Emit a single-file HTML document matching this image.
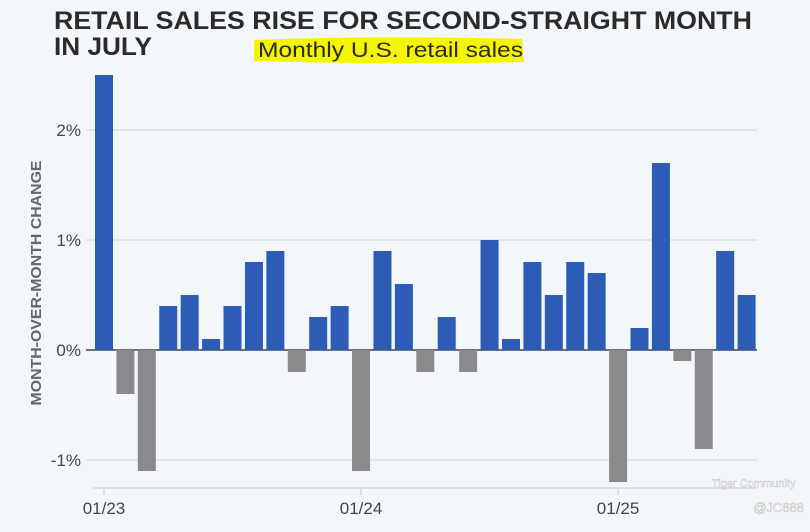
<!DOCTYPE html>
<html><head><meta charset="utf-8"><style>
body{margin:0;background:#f4f7fa;width:810px;height:527px;overflow:hidden;font-family:"Liberation Sans",sans-serif}
</style></head><body>
<svg width="810" height="527" xmlns="http://www.w3.org/2000/svg">
<rect width="810" height="527" fill="#f4f7fa"/>
<text x="54" y="29" font-size="25" font-weight="bold" fill="#2b2b2b" textLength="698" lengthAdjust="spacingAndGlyphs">RETAIL SALES RISE FOR SECOND-STRAIGHT MONTH</text>
<text x="54" y="55" font-size="25" font-weight="bold" fill="#2b2b2b" textLength="98" lengthAdjust="spacingAndGlyphs">IN JULY</text>
<path d="M254 40 Q390 35 522 39 L524 62 Q390 65 254 61 Z" fill="#f5f500"/>
<text x="258" y="57" font-size="21" fill="#2b2b2b" textLength="265" lengthAdjust="spacingAndGlyphs">Monthly U.S. retail sales</text>
<text transform="translate(41,283) rotate(-90)" text-anchor="middle" font-size="15" font-weight="bold" fill="#666" textLength="245" lengthAdjust="spacingAndGlyphs">MONTH-OVER-MONTH CHANGE</text>
<g id="grid"></g><g id="bars"></g><g id="xaxis"></g>
<text x="804" y="512" text-anchor="end" font-size="13" fill="#fff" stroke="#bbb" stroke-width="0.5">@JC888</text>
<text x="712" y="487" font-size="11" fill="#fff" stroke="#bbb" stroke-width="0.4">Tiger Community</text>
</svg>
<script>
const months = ["01/23","02/23","03/23","04/23","05/23","06/23","07/23","08/23","09/23","10/23","11/23","12/23","01/24","02/24","03/24","04/24","05/24","06/24","07/24","08/24","09/24","10/24","11/24","12/24","01/25","02/25","03/25","04/25","05/25","06/25","07/25"];
const values = [2.5,-0.4,-1.1,0.4,0.5,0.1,0.4,0.8,0.9,-0.2,0.3,0.4,-1.1,0.9,0.6,-0.2,0.3,-0.2,1.0,0.1,0.8,0.5,0.8,0.7,-1.2,0.2,1.7,-0.1,-0.9,0.9,0.5];
const yTicks = [-1,0,1,2];
const yTickLabels = ["-1%","0%","1%","2%"];
const xTickLabels = ["01/23","01/24","01/25"];
const NS="http://www.w3.org/2000/svg";
const y = v => 350 - v*110;
const step = (746.6-104)/30;
const x = i => 104 + i*step;
function mk(tag, attrs, parent){const e=document.createElementNS(NS,tag);for(const k in attrs)e.setAttribute(k,attrs[k]);parent.appendChild(e);return e;}
const grid=document.getElementById('grid'), bars=document.getElementById('bars'), xa=document.getElementById('xaxis');
yTicks.forEach((t,i)=>{
  const l=mk('line',{x1:86,x2:757,y1:y(t),y2:y(t),stroke:t===0?'#444':'#dcdfe3','stroke-width':1.5},grid);
  
  
  const tx=mk('text',{x:81,y:y(t)+6,'text-anchor':'end','font-size':17,fill:'#444'},grid);
  tx.textContent=yTickLabels[i];
  
  
});
values.forEach((v,i)=>{
  const r=mk('rect',{x:x(i)-9,width:18,y:Math.min(y(v),y(0)),height:Math.abs(y(v)-y(0)),fill:v>=0?'#2c5cb5':'#8a8a8c'},bars);
  
  
});
const ax=mk('line',{x1:93,x2:757,y1:488,y2:488,stroke:'#dcdfe3','stroke-width':2},xa);


xTickLabels.forEach(lbl=>{
  const i=months.indexOf(lbl);
  const tk=mk('line',{x1:x(i),x2:x(i),y1:488,y2:495,stroke:'#dcdfe3','stroke-width':2},xa);
  
  
  const t=mk('text',{x:x(i),y:514,'text-anchor':'middle','font-size':17,fill:'#444'},xa);
  t.textContent=lbl;
  
  
});
</script>
</body></html>
